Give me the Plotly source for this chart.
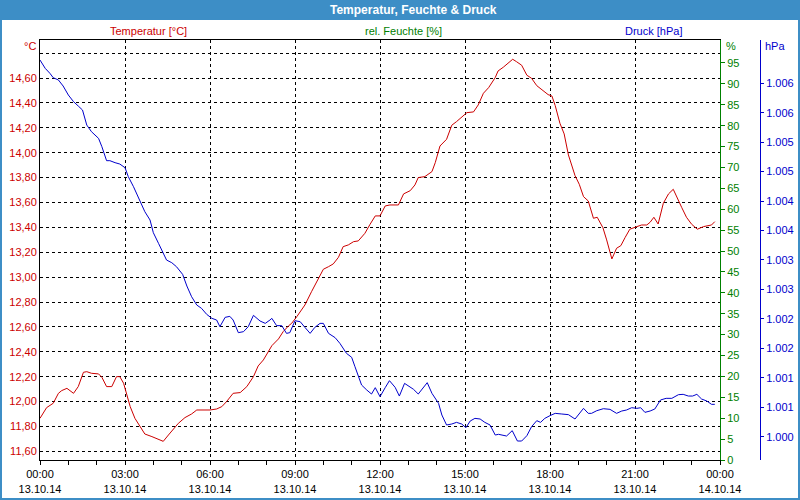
import pandas as pd
import plotly.graph_objects as go

# ---------------- data ----------------
base_day = "2014-10-13"

temp_minutes = [0, 14, 28, 39, 46, 57, 71, 81, 92, 99, 109, 124, 131, 141, 152, 162, 169, 177, 184, 191,
                201, 212, 222, 237, 251, 261, 272, 282, 293, 307, 321, 332, 346, 360, 374, 385, 395, 409, 424, 438,
                452, 462, 473, 487, 491, 505, 515, 526, 533, 544, 561, 575, 589, 600, 611, 621, 632, 642, 653, 664,
                674, 688, 699, 710, 720, 731, 741, 759, 770, 784, 794, 801, 815, 830, 837, 847, 861, 872, 882, 893,
                904, 918, 928, 939, 950, 964, 970, 981, 992, 1001, 1009, 1020, 1031, 1041, 1052, 1066, 1076, 1084,
                1091, 1101, 1110, 1119, 1133, 1142, 1151, 1161, 1172, 1180, 1192, 1200, 1211, 1221, 1230, 1239,
                1249, 1264, 1274, 1285, 1292, 1300, 1309, 1320, 1331, 1341, 1350, 1359, 1369, 1380, 1392, 1405,
                1422, 1429]
temp_values = [11.865, 11.951, 11.986, 12.066, 12.088, 12.106, 12.066, 12.120, 12.235, 12.240,
               12.227, 12.222, 12.195, 12.120, 12.120, 12.200, 12.200, 12.147, 12.053, 11.959,
               11.865, 11.793, 11.739, 11.718, 11.699, 11.680, 11.731, 11.777, 11.825, 11.871,
               11.900, 11.932, 11.932, 11.932, 11.940, 11.959, 11.999, 12.066, 12.072, 12.120,
               12.200, 12.286, 12.334, 12.428,
               12.449, 12.503, 12.562, 12.607, 12.629, 12.683, 12.776, 12.883, 12.991, 13.063,
               13.084, 13.106, 13.159, 13.245, 13.259, 13.285, 13.291, 13.352, 13.425, 13.492,
               13.492, 13.572, 13.580, 13.580, 13.669, 13.695, 13.741, 13.800, 13.808, 13.848,
               13.920, 14.054, 14.108, 14.221, 14.250, 14.285, 14.322, 14.328, 14.384, 14.478,
               14.523, 14.604,
               14.657, 14.687, 14.719, 14.751, 14.732, 14.703, 14.623, 14.598, 14.539, 14.499,
               14.467, 14.456, 14.379, 14.237, 14.151, 13.982, 13.816, 13.746, 13.647, 13.612,
               13.473, 13.481, 13.398, 13.299, 13.146, 13.232, 13.253, 13.318, 13.385, 13.406,
               13.419, 13.419, 13.441, 13.481, 13.427, 13.594, 13.669, 13.706, 13.626, 13.559,
               13.481, 13.425, 13.385, 13.406, 13.419, 13.446]

press_minutes = [0, 11, 21, 28, 39, 49, 60, 71, 81, 90, 99, 109, 124, 131, 141, 148, 159, 169, 180, 187,
                 198, 212, 222, 233, 240, 251, 261, 268, 279, 289, 302, 311, 321, 332, 342, 353, 364, 374, 381, 392,
                 402, 409, 420, 431, 441, 452, 466, 477, 487,
                 491, 501, 512, 522, 529, 540, 551, 561, 572, 582, 593, 600, 611, 625, 635, 649, 660, 667, 674, 681,
                 692, 702, 710, 720, 731, 740, 752, 761, 772, 784, 791, 801, 812, 820, 830, 844, 851, 861, 872, 882,
                 893, 902, 911, 921, 932, 942, 953, 964,
                 971, 981, 988, 1000, 1011, 1020, 1031, 1041, 1052, 1060, 1069, 1080, 1091, 1105, 1119, 1133, 1140,
                 1151, 1161, 1168, 1179, 1193, 1207, 1221, 1232, 1242, 1253, 1264, 1272, 1281, 1292, 1302, 1314,
                 1326, 1338, 1352, 1362, 1373, 1382, 1391, 1401, 1412, 1422, 1429]
press_values = [1006.395, 1006.254, 1006.169, 1006.095, 1006.056, 1005.954, 1005.801, 1005.688, 1005.614, 1005.546,
                1005.291, 1005.178, 1005.065, 1004.924, 1004.686, 1004.686, 1004.652, 1004.629, 1004.567, 1004.414,
                1004.244, 1004.007, 1003.820, 1003.679, 1003.463, 1003.282, 1003.113, 1002.999, 1002.954, 1002.886,
                1002.756, 1002.558, 1002.377, 1002.235, 1002.179, 1002.077, 1002.009, 1001.981, 1001.868, 1002.026,
                1002.043, 1001.981, 1001.766, 1001.783, 1001.868, 1002.060, 1001.964, 1001.924, 1001.981,
                1002.009, 1001.885, 1001.885, 1001.754, 1001.766, 1001.969, 1001.952, 1001.856, 1001.754, 1001.856,
                1001.924, 1001.924, 1001.754, 1001.681, 1001.585, 1001.415, 1001.347, 1001.188, 1001.019, 1000.877,
                1000.792, 1000.724, 1000.832, 1000.679, 1000.832, 1000.951, 1000.838, 1000.690, 1000.905, 1000.832,
                1000.804, 1000.724, 1000.838, 1000.917, 1000.736, 1000.566, 1000.368, 1000.198, 1000.215, 1000.243,
                1000.215, 1000.153, 1000.266, 1000.311, 1000.300, 1000.243, 1000.198, 1000.028,
                1000.040, 1000.017, 1000.011, 1000.102, 999.926, 999.926, 1000.017, 1000.170, 1000.272, 1000.243,
                1000.311, 1000.357, 1000.396, 1000.385, 1000.374, 1000.300, 1000.374, 1000.481, 1000.396, 1000.396,
                1000.441, 1000.475, 1000.464, 1000.396, 1000.436, 1000.453, 1000.492, 1000.481, 1000.492, 1000.413,
                1000.436, 1000.470, 1000.623, 1000.651, 1000.651, 1000.713, 1000.719, 1000.690, 1000.690, 1000.719,
                1000.639, 1000.606, 1000.549, 1000.549]

humid_minutes = []
humid_values = []

temp_ticks = [11.6, 11.8, 12.0, 12.2, 12.4, 12.6, 12.8, 13.0, 13.2, 13.4, 13.6, 13.8, 14.0, 14.2, 14.4, 14.6, 14.8]
temp_labels = ["11,60", "11,80", "12,00", "12,20", "12,40", "12,60", "12,80", "13,00", "13,20",
               "13,40", "13,60", "13,80", "14,00", "14,20", "14,40", "14,60", ""]
humid_ticks = [0, 5, 10, 15, 20, 25, 30, 35, 40, 45, 50, 55, 60, 65, 70, 75, 80, 85, 90, 95]
press_ticks = [1000.0, 1000.5, 1001.0, 1001.5, 1002.0, 1002.5, 1003.0, 1003.5, 1004.0, 1004.5, 1005.0, 1005.5, 1006.0]
press_labels = ["1.000", "1.001", "1.001", "1.002", "1.002", "1.003", "1.003", "1.004", "1.004",
                "1.005", "1.005", "1.006", "1.006"]

title_text = "Temperatur, Feuchte & Druck"
label_temp = "Temperatur [°C]"
label_humid = "rel. Feuchte [%]"
label_press = "Druck [hPa]"

# ---------------- styling ----------------
RED = "#cc0000"
GREEN = "#008000"
BLUE = "#0000cc"
BAR = "#3d8ec6"
FONT = "Liberation Sans"

W, H = 800, 500
ML, MR, MT, MB = 40, 40, 40, 40
PW = W - ML - MR  # 720
PH = H - MT - MB  # 420


def px_x(px):
    return (px - ML) / PW


def px_y(py):
    return (H - MB - py) / PH


t0 = pd.Timestamp(base_day)
tx = t0 + pd.to_timedelta(temp_minutes, unit="m")
px_ = t0 + pd.to_timedelta(press_minutes, unit="m")
hx = t0 + pd.to_timedelta(humid_minutes, unit="m")

fig = go.Figure()
fig.add_trace(go.Scatter(x=tx, y=temp_values, mode="lines", line=dict(color=RED, width=1),
                         yaxis="y", showlegend=False, hoverinfo="skip"))
fig.add_trace(go.Scatter(x=hx, y=humid_values, mode="lines", line=dict(color=GREEN, width=1),
                         yaxis="y2", showlegend=False, hoverinfo="skip"))
fig.add_trace(go.Scatter(x=px_, y=press_values, mode="lines", line=dict(color=BLUE, width=1),
                         yaxis="y3", showlegend=False, hoverinfo="skip"))

tick_font = dict(family=FONT, size=11)

fig.update_layout(
    width=W, height=H,
    margin=dict(l=ML, r=MR, t=MT, b=MB, pad=0),
    paper_bgcolor="white", plot_bgcolor="white",
    showlegend=False,
    xaxis=dict(
        domain=[0, 680 / PW],
        type="date",
        range=[t0, t0 + pd.Timedelta(hours=24)],
        tick0=t0, dtick=3 * 3600000,
        tickformat="%H:%M<br>%d.%m.%y",
        showgrid=True, gridcolor="black", gridwidth=1, griddash="3px,3px",
        showline=True, linecolor="black", linewidth=1, mirror=True,
        ticks="outside", ticklen=4, tickcolor="black",
        minor=dict(dtick=3600000, ticks="outside", ticklen=4, tickcolor="black", showgrid=False),
        tickfont=dict(family=FONT, size=11, color="black"),
        zeroline=False, automargin=False, fixedrange=True,
    ),
    yaxis=dict(
        range=[11.530, 14.906],
        tickmode="array", tickvals=temp_ticks, ticktext=temp_labels,
        showgrid=True, gridcolor="black", gridwidth=1, griddash="3px,3px",
        showline=True, linecolor="black", linewidth=1,
        ticks="", tickfont=dict(family=FONT, size=11, color=RED),
        zeroline=False, automargin=False,
    ),
    yaxis2=dict(
        overlaying="y", side="right", anchor="x",
        range=[0, 100.5],
        tickmode="array", tickvals=humid_ticks,
        showgrid=False, showline=True, linecolor=GREEN, linewidth=1,
        ticks="outside", ticklen=4, tickcolor=GREEN,
        tickfont=dict(family=FONT, size=11, color=GREEN),
        zeroline=False, automargin=False,
    ),
    yaxis3=dict(
        overlaying="y", side="right", anchor="free", position=1.0,
        range=[999.604, 1006.735],
        tickmode="array", tickvals=press_ticks, ticktext=press_labels,
        showgrid=False, showline=True, linecolor=BLUE, linewidth=1,
        ticks="outside", ticklen=3, tickcolor=BLUE,
        tickfont=dict(family=FONT, size=11, color=BLUE),
        zeroline=False, automargin=False,
    ),
)

shapes = [
    # title bar
    dict(type="rect", xref="paper", yref="paper", x0=px_x(0), x1=px_x(W), y0=px_y(20), y1=px_y(0),
         fillcolor=BAR, line=dict(width=0), layer="above"),
    # window border left/right/bottom
    dict(type="rect", xref="paper", yref="paper", x0=px_x(0), x1=px_x(2), y0=px_y(H), y1=px_y(20),
         fillcolor=BAR, line=dict(width=0), layer="above"),
    dict(type="rect", xref="paper", yref="paper", x0=px_x(W - 2), x1=px_x(W), y0=px_y(H), y1=px_y(20),
         fillcolor=BAR, line=dict(width=0), layer="above"),
    dict(type="rect", xref="paper", yref="paper", x0=px_x(0), x1=px_x(W), y0=px_y(H), y1=px_y(H - 2),
         fillcolor=BAR, line=dict(width=0), layer="above"),
]
fig.update_layout(shapes=shapes)

ann = [
    dict(text="<b>" + title_text + "</b>", x=px_x(413), y=px_y(10), xanchor="center", yanchor="middle",
         font=dict(family=FONT, size=12, color="white")),
    dict(text=label_temp, x=px_x(148), y=px_y(31), xanchor="center", yanchor="middle",
         font=dict(family=FONT, size=11, color=RED)),
    dict(text=label_humid, x=px_x(403), y=px_y(31), xanchor="center", yanchor="middle",
         font=dict(family=FONT, size=11, color=GREEN)),
    dict(text=label_press, x=px_x(653), y=px_y(31), xanchor="center", yanchor="middle",
         font=dict(family=FONT, size=11, color=BLUE)),
    dict(text="°C", x=px_x(38), y=px_y(46), xanchor="right", yanchor="middle",
         font=dict(family=FONT, size=11, color=RED)),
    dict(text="%", x=px_x(724), y=px_y(46), xanchor="left", yanchor="middle",
         font=dict(family=FONT, size=11, color=GREEN)),
    dict(text="hPa", x=px_x(763), y=px_y(46), xanchor="left", yanchor="middle",
         font=dict(family=FONT, size=11, color=BLUE)),
]
for a in ann:
    a.update(xref="paper", yref="paper", showarrow=False)
fig.update_layout(annotations=ann)

fig.write_html("out.html", config={"displayModeBar": False})
